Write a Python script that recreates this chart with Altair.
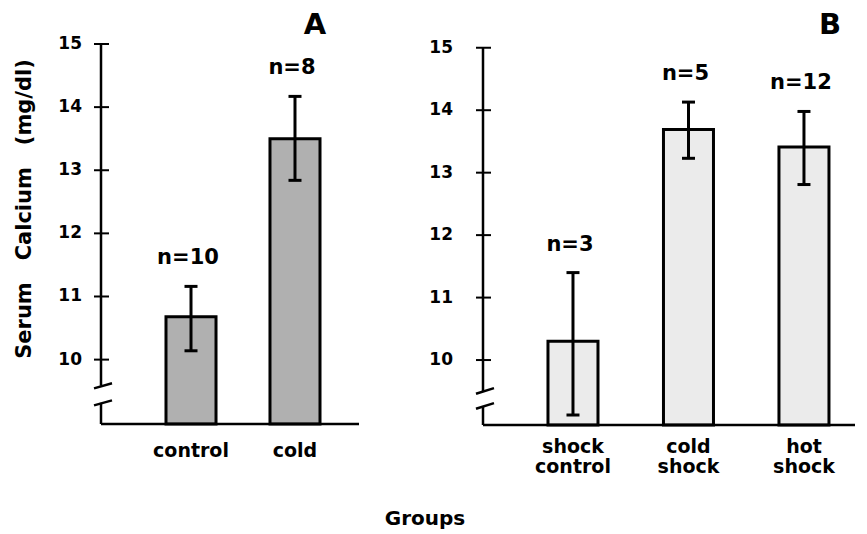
import altair as alt
import pandas as pd

FONT = "DejaVu Sans"
NB = "\u00a0"

# ---------------- data ----------------
# Panel A
groups_a = ["control", "cold"]
means_a = [10.68, 13.50]
err_lo_a = [10.14, 12.84]
err_hi_a = [11.16, 14.17]
n_a = ["n=10", "n=8"]
labels_a = ["control", "cold"]

# Panel B
groups_b = ["shock control", "cold shock", "hot shock"]
means_b = [10.30, 13.69, 13.41]
err_lo_b = [9.12, 13.23, 12.81]
err_hi_b = [11.40, 14.13, 13.98]
n_b = ["n=3", "n=5", "n=12"]
labels_b = ["shock\ncontrol", "cold\nshock", "hot\nshock"]

# y axis
y_ticks = [10, 11, 12, 13, 14, 15]
y_tick_labels = ["10", "11", "12", "13", "14", "15"]
y_domain_a = [8.98, 15.0]
y_domain_b = [8.96, 15.06]
# axis break (value where the upper axis segment stops / lower one starts, slash ends)
break_a = {"upper_end": 9.585, "lower_start": 9.315,
           "slash_lo": [9.545, 9.275], "slash_hi": [9.625, 9.355]}
break_b = {"upper_end": 9.505, "lower_start": 9.265,
           "slash_lo": [9.46, 9.22], "slash_hi": [9.55, 9.31]}

y_title = NB.join(["Serum", "", "", "Calcium", "", "", "(mg/dl)"])
x_title = "Groups"

W_A, H_A = 258, 380
W_B, H_B = 372, 381


def panel(groups, means, lo, hi, ns, labels, ydom, brk, width, height,
          pinner, pouter, align, fill, letter, letter_x, tick_label_x,
          cat_y, left=False):
    df = pd.DataFrame({"group": groups, "mean": means, "lo": lo, "hi": hi,
                       "n": ns, "label": labels})
    xs = alt.Scale(domain=groups, paddingInner=pinner, paddingOuter=pouter,
                   align=align)
    ys = alt.Scale(domain=ydom, zero=False, nice=False)
    x = alt.X("group:N", scale=xs, axis=None, sort=groups)

    bars = alt.Chart(df).mark_bar(fill=fill, stroke="black", strokeWidth=3).encode(
        x=x, y=alt.Y("mean:Q", scale=ys, axis=None), y2=alt.datum(ydom[0]))
    err = alt.Chart(df).mark_rule(color="black", strokeWidth=3).encode(
        x=x, y=alt.Y("lo:Q", scale=ys, axis=None), y2="hi:Q")
    cap_hi = alt.Chart(df).mark_tick(color="black", size=13, thickness=3, opacity=1).encode(
        x=x, y=alt.Y("hi:Q", scale=ys, axis=None))
    cap_lo = alt.Chart(df).mark_tick(color="black", size=13, thickness=3, opacity=1).encode(
        x=x, y=alt.Y("lo:Q", scale=ys, axis=None))
    nlab = alt.Chart(df).mark_text(font=FONT, fontSize=21, fontWeight="bold",
                                   baseline="alphabetic", dy=-22, dx=-3,
                                   color="black").encode(
        x=x, y=alt.Y("hi:Q", scale=ys, axis=None), text="n:N")
    catlab = alt.Chart(df).mark_text(font=FONT, fontSize=19, fontWeight="bold",
                                     baseline="alphabetic", lineBreak="\n",
                                     lineHeight=20, color="black").encode(
        x=x, y=alt.value(cat_y), text="label:N")

    # axis
    axis_df = pd.DataFrame({"y0": [brk["upper_end"], ydom[0]],
                            "y1": [15, brk["lower_start"]]})
    axis_line = alt.Chart(axis_df).mark_rule(color="black", strokeWidth=2.5).encode(
        x=alt.value(0), y=alt.Y("y0:Q", scale=ys, axis=None), y2="y1:Q")
    slash_df = pd.DataFrame({"a": brk["slash_lo"], "b": brk["slash_hi"]})
    slashes = alt.Chart(slash_df).mark_rule(color="black", strokeWidth=2.5).encode(
        x=alt.value(-7), x2=alt.value(11),
        y=alt.Y("a:Q", scale=ys, axis=None), y2="b:Q")
    base_df = pd.DataFrame({"v": [ydom[0]]})
    base_line = alt.Chart(base_df).mark_rule(color="black", strokeWidth=2.5).encode(
        x=alt.value(0), x2=alt.value(width), y=alt.Y("v:Q", scale=ys, axis=None))
    tick_df = pd.DataFrame({"v": y_ticks, "label": y_tick_labels})
    tick_rules = alt.Chart(tick_df).mark_rule(color="black", strokeWidth=2).encode(
        x=alt.value(-7), x2=alt.value(8), y=alt.Y("v:Q", scale=ys, axis=None))
    tick_text = alt.Chart(tick_df).mark_text(font=FONT, fontSize=17, fontWeight="bold",
                                             align="right", baseline="middle",
                                             color="black").encode(
        x=alt.value(tick_label_x), y=alt.Y("v:Q", scale=ys, axis=None), text="label:N")

    letter_mark = alt.Chart(pd.DataFrame({"t": [letter]})).mark_text(
        font=FONT, fontSize=29, fontWeight="bold", baseline="top", align="center",
        color="black").encode(x=alt.value(letter_x), y=alt.value(-33.5), text="t:N")

    layers = [bars, err, cap_hi, cap_lo, nlab, catlab, axis_line, slashes,
              base_line, tick_rules, tick_text, letter_mark]

    if left:
        ttl = alt.Chart(pd.DataFrame({"t": [y_title]})).mark_text(
            font=FONT, fontSize=21, fontWeight="bold", angle=270, align="center",
            baseline="alphabetic", color="black").encode(
            x=alt.value(-70), y=alt.value(165), text="t:N")
        xt = alt.Chart(pd.DataFrame({"t": [x_title]})).mark_text(
            font=FONT, fontSize=20, fontWeight="bold", align="center",
            baseline="alphabetic", color="black").encode(
            x=alt.value(324), y=alt.value(481), text="t:N")
        pin = alt.Chart(pd.DataFrame({"t": [0]})).mark_rule(
            strokeWidth=1, strokeOpacity=0, color="white").encode(
            x=alt.value(-92.5), x2=alt.value(-90), y=alt.value(-35.2))
        layers += [ttl, xt, pin]

    return alt.layer(*layers).properties(width=width, height=height)


pA = panel(groups_a, means_a, err_lo_a, err_hi_a, n_a, labels_a, y_domain_a,
           break_a, W_A, H_A, 0.519, 0.5, 0.625, "#b0b0b0", "A", 214, -19,
           H_A + 33, left=True)
pB = panel(groups_b, means_b, err_lo_b, err_hi_b, n_b, labels_b, y_domain_b,
           break_b, W_B, H_B, 0.567, 0.394, 0.714, "#ebebeb", "B", 347, -30,
           H_B + 28)

chart = alt.hconcat(pA, pB, spacing=124, bounds="flush").properties(
    padding=0, background="white"
).configure_view(stroke=None)

chart.save("out.html", embed_options={"renderer": "svg", "actions": False})
